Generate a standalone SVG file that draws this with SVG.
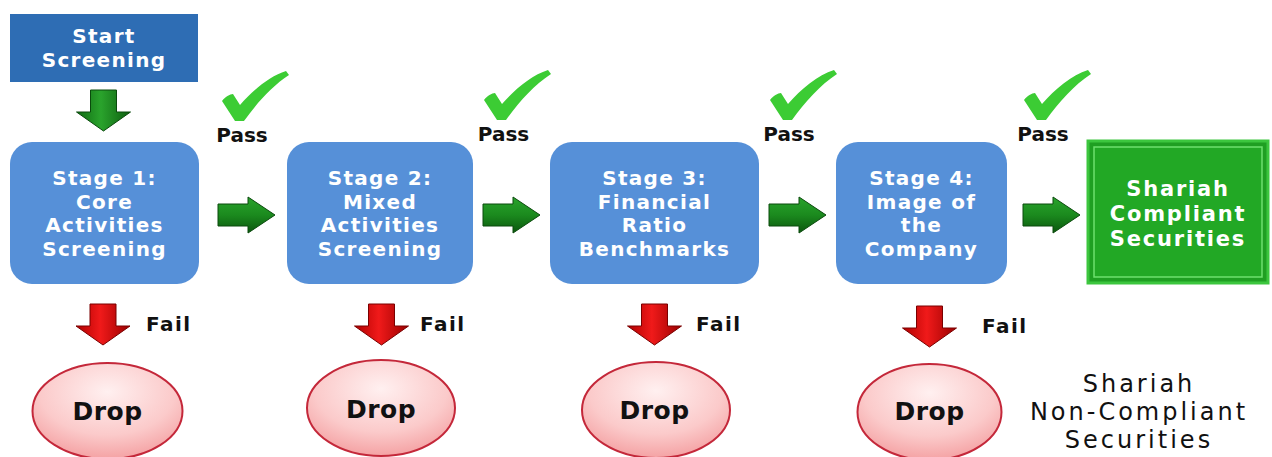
<svg xmlns="http://www.w3.org/2000/svg" width="1272" height="457" viewBox="0 0 1272 457">
  <defs>
    <linearGradient id="gGreen" x1="0" y1="0" x2="1" y2="0">
      <stop offset="0" stop-color="#0f6a12"/>
      <stop offset="0.45" stop-color="#2aa32c"/>
      <stop offset="1" stop-color="#0d5e10"/>
    </linearGradient>
    <linearGradient id="gGreenH" x1="0" y1="0" x2="0" y2="1">
      <stop offset="0" stop-color="#2aa32c"/>
      <stop offset="0.5" stop-color="#1b8a1e"/>
      <stop offset="1" stop-color="#0b560e"/>
    </linearGradient>
    <linearGradient id="gRed" x1="0" y1="0" x2="1" y2="0">
      <stop offset="0" stop-color="#b00000"/>
      <stop offset="0.45" stop-color="#f01a1a"/>
      <stop offset="1" stop-color="#9a0000"/>
    </linearGradient>
    <radialGradient id="gDrop" cx="0.5" cy="0.3" r="0.75">
      <stop offset="0" stop-color="#fff0f0"/>
      <stop offset="0.6" stop-color="#fbcaca"/>
      <stop offset="1" stop-color="#f39a9c"/>
    </radialGradient>
    <!-- arrow shapes, drawn at the origin -->
    <path id="arrowDown" d="M -13 0 H 13 V 22 H 27 L 0 41 L -27 22 H -13 Z"/>
    <path id="arrowRight" d="M 0 -11 H 30 V -18 L 57 0 L 30 18 V 11 H 0 Z"/>
    <path id="tick" d="M 0 30 C 3 26 8 23 11 23 L 18 34 C 31 19 48 5 64 0 L 67 4 C 50 15 35 32 22 50 L 13 50 Z"/>
  </defs>
  <style>
    .box { fill: #5690d8; }
    .lbl { font-family: "DejaVu Sans", Verdana, sans-serif; font-weight: bold; font-size: 20px; fill: #ffffff; text-anchor: middle; letter-spacing: 1.3px; }
    .pass { font-family: "DejaVu Sans", Verdana, sans-serif; font-weight: bold; font-size: 20px; fill: #111111; text-anchor: middle; }
    .fail { font-family: "DejaVu Sans", Verdana, sans-serif; font-weight: bold; font-size: 20px; fill: #111111; letter-spacing: 1.5px; }
    .drop { font-family: "DejaVu Sans", Verdana, sans-serif; font-weight: bold; font-size: 25px; fill: #111111; text-anchor: middle; letter-spacing: 0.5px; }
    .note { font-family: "DejaVu Sans", Verdana, sans-serif; font-size: 24px; fill: #111111; text-anchor: middle; letter-spacing: 3px; }
    .ell { fill: url(#gDrop); stroke: #c4283a; stroke-width: 2; }
    .gdown { fill: url(#gGreen); stroke: #0a4a0c; stroke-width: 1; }
    .gright { fill: url(#gGreenH); stroke: #0a4a0c; stroke-width: 1; }
    .rdown { fill: url(#gRed); stroke: #7a0000; stroke-width: 1; }
    .tick { fill: #3ccc34; }
  </style>

  <rect width="1272" height="457" fill="#ffffff"/>

  <!-- start node -->
  <g id="start">
    <rect x="10" y="14" width="188" height="68" fill="#2e6db4"/>
    <text class="lbl" x="104" y="43">Start</text>
    <text class="lbl" x="104" y="67">Screening</text>
  </g>

  <!-- screening stages -->
  <g id="stage1">
    <rect class="box" x="10" y="142" width="189" height="142" rx="22"/>
    <text class="lbl" x="104.5" y="185">Stage 1:</text>
    <text class="lbl" x="104.5" y="209">Core</text>
    <text class="lbl" x="104.5" y="232">Activities</text>
    <text class="lbl" x="104.5" y="256">Screening</text>
  </g>
  <g id="stage2">
    <rect class="box" x="287" y="142" width="186" height="142" rx="22"/>
    <text class="lbl" x="380" y="185">Stage 2:</text>
    <text class="lbl" x="380" y="209">Mixed</text>
    <text class="lbl" x="380" y="232">Activities</text>
    <text class="lbl" x="380" y="256">Screening</text>
  </g>
  <g id="stage3">
    <rect class="box" x="550" y="142" width="209" height="142" rx="22"/>
    <text class="lbl" x="654.5" y="185">Stage 3:</text>
    <text class="lbl" x="654.5" y="209">Financial</text>
    <text class="lbl" x="654.5" y="232">Ratio</text>
    <text class="lbl" x="654.5" y="256">Benchmarks</text>
  </g>
  <g id="stage4">
    <rect class="box" x="836" y="142" width="171" height="142" rx="22"/>
    <text class="lbl" x="921.5" y="185">Stage 4:</text>
    <text class="lbl" x="921.5" y="209">Image of</text>
    <text class="lbl" x="921.5" y="232">the</text>
    <text class="lbl" x="921.5" y="256">Company</text>
  </g>

  <!-- compliant outcome -->
  <g id="compliant">
    <rect x="1088" y="141" width="180" height="142" fill="#1f9f22" stroke="#3cc63e" stroke-width="3"/>
    <rect x="1094" y="147" width="168" height="130" fill="#22a825" stroke="#6ee06e" stroke-width="1.5"/>
    <text class="lbl" x="1178" y="196" style="font-size:21px;letter-spacing:1.8px">Shariah</text>
    <text class="lbl" x="1178" y="221" style="font-size:21px;letter-spacing:1.8px">Compliant</text>
    <text class="lbl" x="1178" y="246" style="font-size:21px;letter-spacing:1.8px">Securities</text>
  </g>

  <!-- rejected outcomes -->
  <g id="drop1">
    <ellipse class="ell" cx="107.5" cy="411" rx="75" ry="48"/>
    <text class="drop" x="107.5" y="420">Drop</text>
  </g>
  <g id="drop2">
    <ellipse class="ell" cx="381" cy="408" rx="74" ry="48"/>
    <text class="drop" x="381" y="418">Drop</text>
  </g>
  <g id="drop3">
    <ellipse class="ell" cx="656" cy="410" rx="74" ry="48"/>
    <text class="drop" x="654.5" y="419">Drop</text>
  </g>
  <g id="drop4">
    <ellipse class="ell" cx="929.5" cy="412" rx="72" ry="48"/>
    <text class="drop" x="929.5" y="420">Drop</text>
  </g>

  <g id="noncompliant">
    <text class="note" x="1139" y="392">Shariah</text>
    <text class="note" x="1139" y="420">Non-Compliant</text>
    <text class="note" x="1139" y="448">Securities</text>
  </g>

  <!-- connectors -->
  <g id="connectors">
    <use href="#arrowDown" class="gdown" transform="translate(103.5 90)"/>

    <use href="#arrowRight" class="gright" transform="translate(218 215)"/>
    <use href="#arrowRight" class="gright" transform="translate(483 215)"/>
    <use href="#arrowRight" class="gright" transform="translate(769 215)"/>
    <use href="#arrowRight" class="gright" transform="translate(1023 215)"/>

    <use href="#tick" class="tick" transform="translate(222 71)"/>
    <use href="#tick" class="tick" transform="translate(484 70)"/>
    <use href="#tick" class="tick" transform="translate(770 70)"/>
    <use href="#tick" class="tick" transform="translate(1024 70)"/>

    <text class="pass" x="242" y="142">Pass</text>
    <text class="pass" x="503.5" y="141">Pass</text>
    <text class="pass" x="789" y="141">Pass</text>
    <text class="pass" x="1043" y="141">Pass</text>

    <use href="#arrowDown" class="rdown" transform="translate(103 304)"/>
    <use href="#arrowDown" class="rdown" transform="translate(381.5 304)"/>
    <use href="#arrowDown" class="rdown" transform="translate(654.5 304)"/>
    <use href="#arrowDown" class="rdown" transform="translate(929.5 306)"/>

    <text class="fail" x="146" y="331">Fail</text>
    <text class="fail" x="420" y="331">Fail</text>
    <text class="fail" x="696" y="331">Fail</text>
    <text class="fail" x="982" y="333">Fail</text>
  </g>
</svg>
